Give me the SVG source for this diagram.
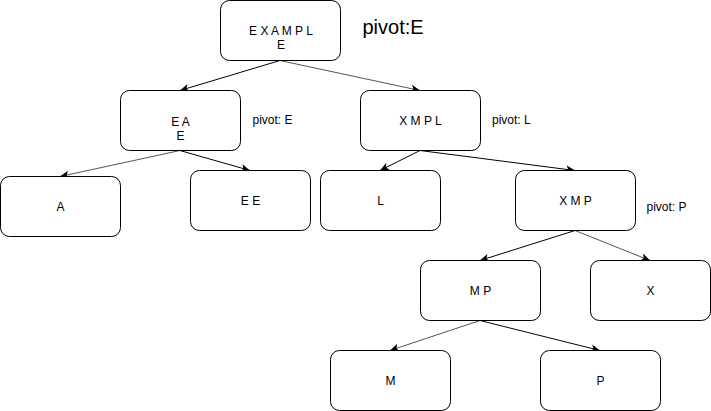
<svg xmlns="http://www.w3.org/2000/svg" width="711" height="411" viewBox="0 0 711 411">
<defs>
<marker id="arr" viewBox="0 0 10 10" refX="10" refY="5" markerWidth="9" markerHeight="9" markerUnits="userSpaceOnUse" orient="auto">
<path d="M0,0.5 L10,5 L0,9.5 L2.5,5 z" fill="#000"/>
</marker>
<style>
.n rect{fill:#fff;stroke:#000;stroke-width:1}
text{font-family:"Liberation Sans",Arial,Helvetica,sans-serif;font-size:12px;fill:#000}
.t{text-anchor:middle}
.e line{stroke:#000;stroke-width:1;marker-end:url(#arr)}
.e line.g{stroke:#555}
</style>
</defs>
<rect width="711" height="411" fill="#fff"/>
<g class="e" id="connectors">
<line x1="280" y1="60.5" x2="180" y2="90.5"/>
<line class="g" x1="280" y1="60.5" x2="420" y2="90.5"/>
<line class="g" x1="180" y1="150.5" x2="60" y2="176.5"/>
<line x1="180" y1="150.5" x2="250" y2="170.5"/>
<line x1="420" y1="150.5" x2="380" y2="170.5"/>
<line x1="420" y1="150.5" x2="575" y2="170.5"/>
<line x1="575" y1="230.5" x2="480" y2="260.5"/>
<line class="g" x1="575" y1="230.5" x2="650" y2="260.5"/>
<line class="g" x1="480" y1="320.5" x2="390" y2="350.5"/>
<line x1="480" y1="320.5" x2="600" y2="350.5"/>
</g>
<g class="n" id="root"><rect x="220.5" y="0.5" width="120" height="60" rx="9"/><text class="t" x="281" y="35">E X A M P L</text><text class="t" x="281" y="49">E</text></g>
<g class="n" id="ea"><rect x="120.5" y="90.5" width="120" height="60" rx="9"/><text class="t" x="180.5" y="126">E A</text><text class="t" x="180.5" y="139.5">E</text></g>
<g class="n" id="xmpl"><rect x="360.5" y="90.5" width="120" height="60" rx="9"/><text class="t" x="420.5" y="125">X M P L</text></g>
<g class="n" id="a"><rect x="0.5" y="176.5" width="120" height="60" rx="9"/><text class="t" x="60.5" y="211">A</text></g>
<g class="n" id="ee"><rect x="190.5" y="170.5" width="120" height="60" rx="9"/><text class="t" x="250.5" y="205">E E</text></g>
<g class="n" id="l"><rect x="320.5" y="170.5" width="120" height="60" rx="9"/><text class="t" x="380.5" y="205">L</text></g>
<g class="n" id="xmp"><rect x="515.5" y="170.5" width="120" height="60" rx="9"/><text class="t" x="575.5" y="205">X M P</text></g>
<g class="n" id="mp"><rect x="420.5" y="260.5" width="120" height="60" rx="9"/><text class="t" x="480.5" y="295">M P</text></g>
<g class="n" id="x"><rect x="590.5" y="260.5" width="120" height="60" rx="9"/><text class="t" x="650.5" y="295">X</text></g>
<g class="n" id="m"><rect x="330.5" y="350.5" width="120" height="60" rx="9"/><text class="t" x="390.5" y="385">M</text></g>
<g class="n" id="p"><rect x="540.5" y="350.5" width="120" height="60" rx="9"/><text class="t" x="600.5" y="385">P</text></g>
<g id="labels">
<text x="362.5" y="34" style="font-size:20px">pivot:E</text>
<text x="252.5" y="124">pivot: E</text>
<text x="492" y="124">pivot: L</text>
<text x="646.5" y="210.5">pivot: P</text>
</g>
</svg>
